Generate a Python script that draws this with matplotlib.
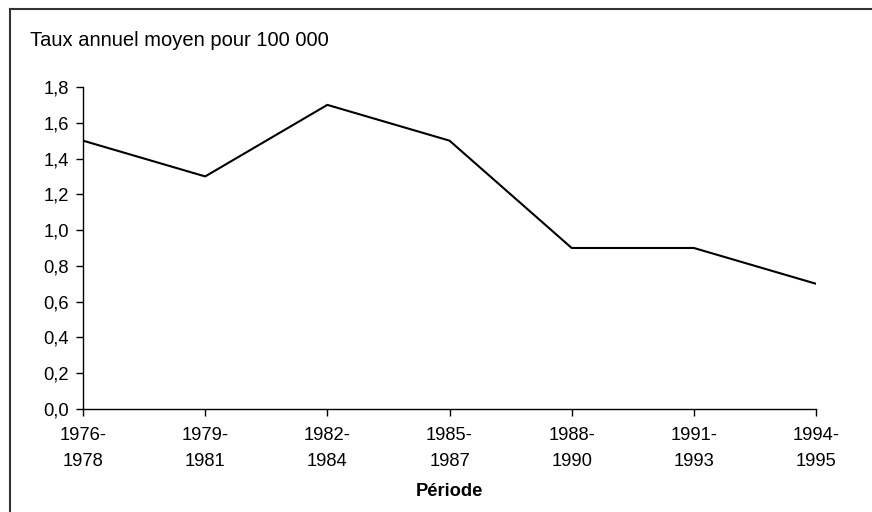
import matplotlib.pyplot as plt
from matplotlib.lines import Line2D

# Taux annuel moyen pour 100 000, par période
periodes = ['1976-\n1978', '1979-\n1981', '1982-\n1984', '1985-\n1987',
            '1988-\n1990', '1991-\n1993', '1994-\n1995']
taux = [1.5, 1.3, 1.7, 1.5, 0.9, 0.9, 0.7]
y_ticks = [0.0, 0.2, 0.4, 0.6, 0.8, 1.0, 1.2, 1.4, 1.6, 1.8]

plt.rcParams['font.family'] = ['Liberation Sans', 'DejaVu Sans']
plt.rcParams['font.size'] = 13.2

fig = plt.figure(figsize=(8.72, 5.12), dpi=100)
ax = fig.add_axes([0.0952, 0.2012, 0.8406, 0.6289])

x = list(range(len(periodes)))
ax.plot(x, taux, color='black', linewidth=1.5)

ax.set_xlim(0, len(periodes) - 1)
ax.set_ylim(0, 1.8)
ax.set_xticks(x)
ax.set_xticklabels(periodes, linespacing=1.72)
ax.set_yticks(y_ticks)
ax.set_yticklabels([f'{v:.1f}'.replace('.', ',') for v in y_ticks])

for side in ['top', 'right']:
    ax.spines[side].set_visible(False)
for side in ['left', 'bottom']:
    ax.spines[side].set_linewidth(1.0)
ax.tick_params(axis='both', direction='out', length=5, width=1.0)
ax.tick_params(axis='x', pad=8)
ax.tick_params(axis='y', pad=5)

ax.set_xlabel('Période', fontweight='bold', labelpad=9)
fig.text(30 / 872, 1 - 40 / 512, 'Taux annuel moyen pour 100 000',
         ha='left', va='center', fontsize=14.5)

# cadre autour du graphique
fig.add_artist(Line2D([10 / 872, 1.0], [1 - 9 / 512, 1 - 9 / 512],
                      transform=fig.transFigure, color='#333333', linewidth=1.5))
fig.add_artist(Line2D([10 / 872, 10 / 872], [0.0, 1 - 9 / 512],
                      transform=fig.transFigure, color='#333333', linewidth=1.5))

fig.savefig('out.png', dpi=100)
